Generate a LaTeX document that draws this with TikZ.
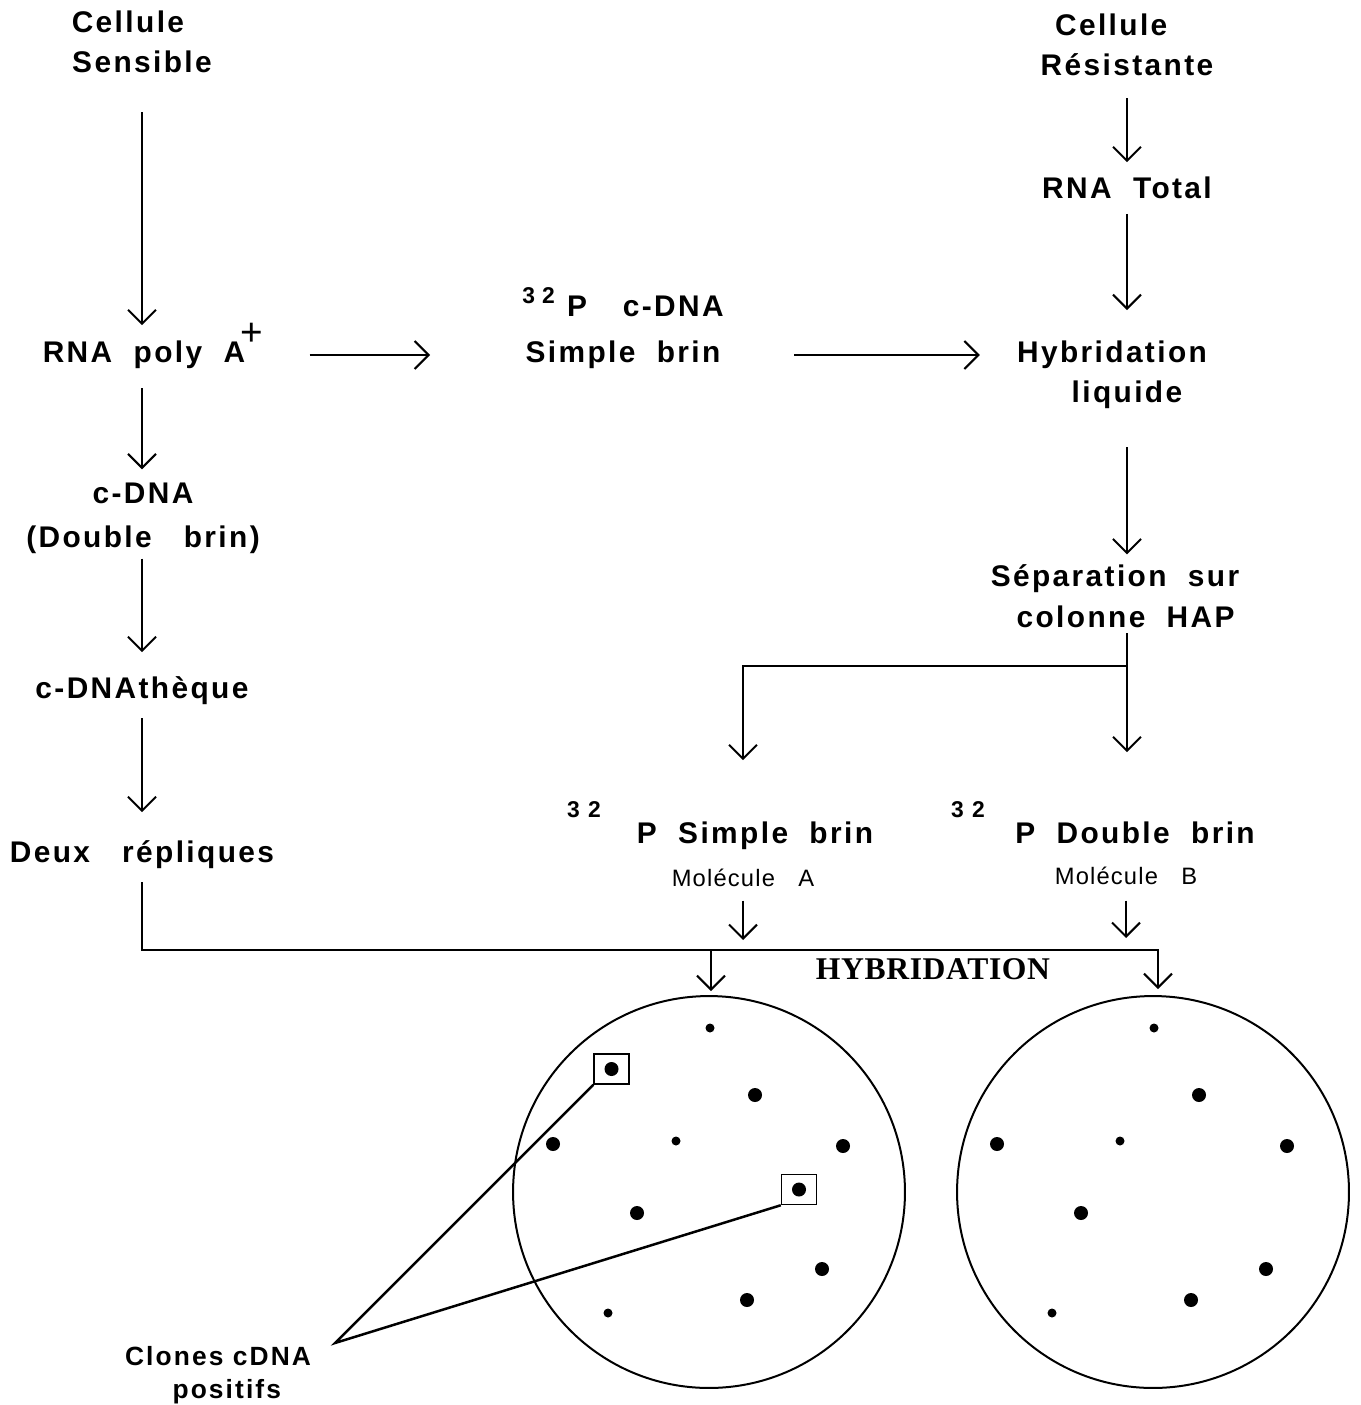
\documentclass[tikz,border=0pt]{standalone}
\usepackage{fontspec}
\setmainfont{Liberation Sans}
\newfontfamily\lblfont[LetterSpace=8]{Liberation Sans}
\newfontfamily\molfont[LetterSpace=5]{Liberation Sans}
\newfontfamily\hybfont[LetterSpace=2]{Liberation Serif}
\usetikzlibrary{arrows.meta}
\newcommand{\supnum}[1]{\raisebox{7.4pt}{\fontsize{13}{13}\selectfont #1}}
\newcommand{\plussup}{\rlap{\smash{\hspace{-2.4pt}\raisebox{9.7pt}{\mdseries\fontsize{22}{22}\selectfont +}}}}

\begin{document}
\begin{tikzpicture}[x=0.02cm, y=-0.02cm,
  lbl/.style={font=\lblfont\bfseries\fontsize{17}{23}\selectfont, align=center, inner sep=0pt},
  small/.style={font=\lblfont\bfseries\fontsize{13}{13}\selectfont, inner sep=0pt},
  mol/.style={font=\molfont\fontsize{13.5}{16}\selectfont, inner sep=0pt},
  arr/.style={-{Straight Barb[length=2.8mm,width=5.6mm]}, line width=0.4mm},
  plate/.style={draw, circle, minimum size=7.84cm, inner sep=0pt, line width=0.4mm},
  spot/.style={draw, rectangle, minimum width=7mm, minimum height=6mm, inner sep=0pt, line width=0.3mm}]
\useasboundingbox (0,0) rectangle (1360,1405);

% left column
\node[lbl] (sens) at (142,42) {Cellule\kern16pt\\Sensible};
\node[lbl] (rnapoly) at (144,355) {RNA~~poly~~A\plussup};
\node[lbl, font=\lblfont\bfseries\fontsize{17}{25}\selectfont] (cdna) at (143,518) {c-DNA\\(Double~~~brin)};
\node[lbl] (theque) at (142,691) {c-DNAthèque};
\node[lbl] (repl) at (142,855) {Deux~~~répliques};

% middle and right column
\node[lbl] (cdnasimple) at (623,328) {\supnum{3\kern4pt2}\kern7pt P\hspace{1.2em}c-DNA\\[1.2mm]Simple~~brin};
\node[lbl] (resist) at (1127,45) {Cellule\kern18pt\\Résistante};
\node[lbl] (rnatot) at (1127,188) {RNA~~Total};
\node[lbl] (hybliq) at (1112,375) {Hybridation\\\kern17pt liquide};
\node[lbl] (sep) at (1115,596) {Séparation~~sur\\\kern12pt colonne~~HAP};

\node[small] (supA) at (584,810) {3 2};
\node[lbl] (psimple) at (755,836) {P~~Simple~~brin};
\node[mol] (molA) at (743,878) {Molécule~~~A};
\node[small] (supB) at (968,810) {3 2};
\node[lbl] (pdouble) at (1135,833) {P~~Double~~brin};
\node[mol] (molB) at (1126,876) {Molécule~~~B};

\node[font=\hybfont\bfseries\fontsize{18}{18}\selectfont, inner sep=0pt] (hyb) at (933,969) {HYBRIDATION};

% plates
\node[plate] (plateA) at (709,1192) {};
\node[plate] (plateB) at (1153,1192) {};
\foreach \plate in {plateA,plateB}
  \foreach \dx/\dy/\r in {1/-164/0.9, 46/-97/1.4, -156/-48/1.4, -33/-51/0.9, 134/-46/1.4,
                          -72/21/1.4, 113/77/1.4, 38/108/1.4, -101/121/0.9}
    \fill ([shift={(\dx,\dy)}]\plate.center) circle (\r mm);
\node[spot] (boxA) at (611.5,1069) {};
\node[spot] (boxB) at (799,1189.5) {};
\fill (boxA.center) circle (1.4mm);
\fill (boxB.center) circle (1.4mm);

\node[font=\lblfont\bfseries\fontsize{15}{18.5}\selectfont, align=center, inner sep=0pt] (clones) at (218,1375) {Clones~cDNA\\\kern10pt positifs};
\coordinate (tip) at (335,1343);
\draw[line width=0.5mm] (boxA.south west) -- (tip) -- (boxB.south west);

% arrows
\draw[arr, shorten <=7.7mm, shorten >=3.1mm] (sens.south) -- (sens.south |- rnapoly.north);
\draw[arr, shorten <=3.8mm, shorten >=2.6mm] (sens.south |- rnapoly.south) -- (sens.south |- cdna.north);
\draw[arr, shorten <=1mm, shorten >=4.9mm] (sens.south |- cdna.south) -- (sens.south |- theque.north);
\draw[arr, shorten <=2.6mm, shorten >=5.7mm] (theque.south) -- (theque.south |- repl.north);
\draw[arr, shorten <=12.8mm, shorten >=18.4mm] (rnapoly.east) -- (rnapoly.east -| cdnasimple.west);
\draw[arr, shorten <=14mm, shorten >=7.4mm] (rnapoly.east -| cdnasimple.east) -- (rnapoly.east -| hybliq.west);
\draw[arr, shorten <=4.3mm, shorten >=2.9mm] (resist.south) -- (resist.south |- rnatot.north);
\draw[arr, shorten <=2.9mm, shorten >=6.1mm] (rnatot.south) -- (rnatot.south |- hybliq.north);
\draw[arr, shorten <=7.6mm, shorten >=2mm] (rnatot.south |- hybliq.south) -- (rnatot.south |- sep.north);
\draw[arr, shorten <=1.1mm, shorten >=13.9mm] (rnatot.south |- sep.south) -- (rnatot.south |- pdouble.north);
\coordinate (fork) at (1127,666);
\draw[arr, shorten >=12.3mm] (fork) -| (molA.north |- pdouble.north);
\draw[arr, shorten <=2.7mm, shorten >=2mm] (molA.south) -- (molA.south |- 0,950);
\draw[arr, shorten <=3.1mm, shorten >=2.4mm] (molB.south) -- (molB.south |- 0,950);

% hybridation bar
\coordinate (bar) at (138,950);
\draw[arr, shorten <=2.6mm, shorten >=1.2mm] (repl.south) -- (repl.south |- bar) -| ([xshift=1mm]plateB.north);
\draw[arr, shorten >=0.8mm] ([xshift=0.4mm]plateA.north |- bar) -- ([xshift=0.4mm]plateA.north);

\end{tikzpicture}
\end{document}
